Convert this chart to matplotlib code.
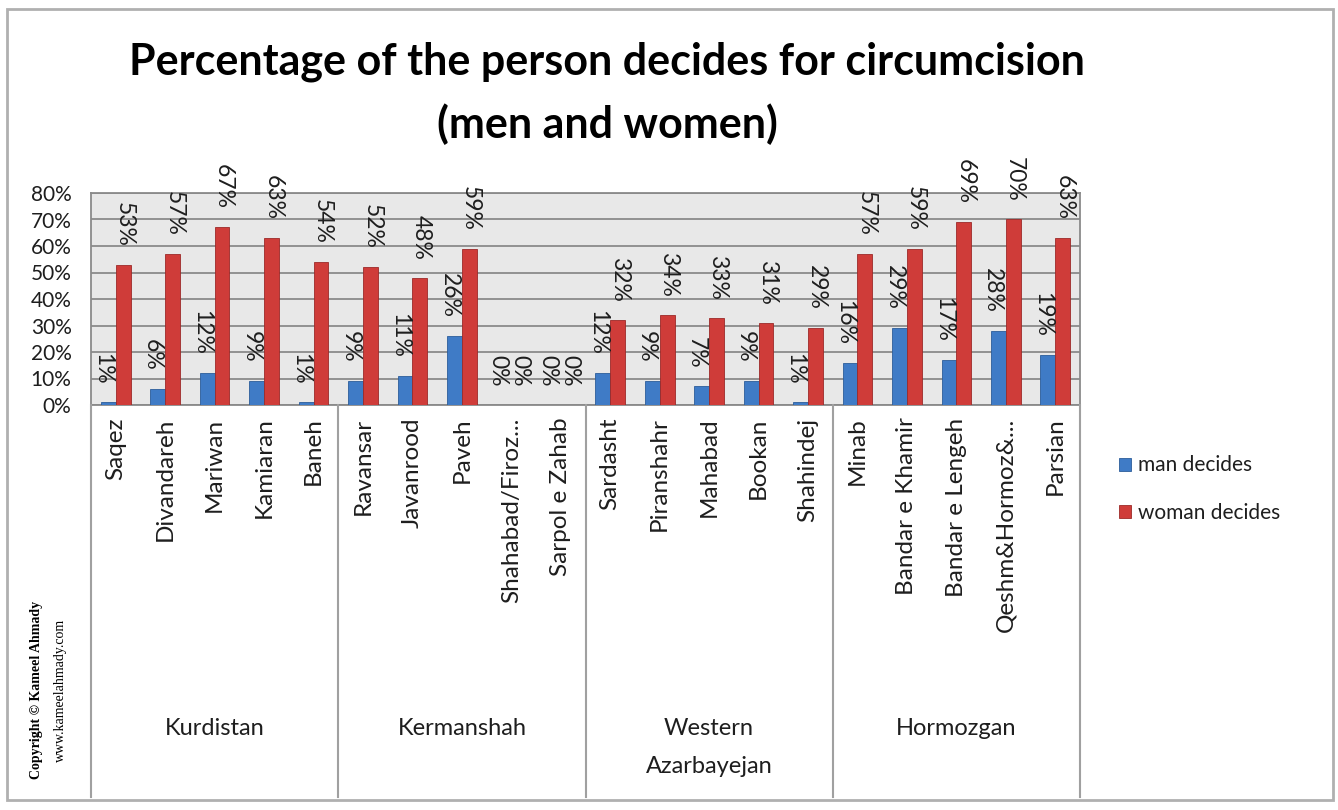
import numpy as np
import matplotlib
matplotlib.use('Agg')
import matplotlib.pyplot as plt
import matplotlib.transforms as mtransforms
from matplotlib.lines import Line2D
from matplotlib.patches import Rectangle

# Data
cities = ['Saqez', 'Divandareh', 'Mariwan', 'Kamiaran', 'Baneh',
          'Ravansar', 'Javanrood', 'Paveh', 'Shahabad/Firoz...', 'Sarpol e Zahab',
          'Sardasht', 'Piranshahr', 'Mahabad', 'Bookan', 'Shahindej',
          'Minab', 'Bandar e Khamir', 'Bandar e Lengeh', 'Qeshm&Hormoz&...', 'Parsian']
provinces = ['Kurdistan', 'Kermanshah', 'Western\nAzarbayejan', 'Hormozgan']
cities_per_province = [5, 5, 5, 5]
man_decides = [1, 6, 12, 9, 1, 9, 11, 26, 0, 0, 12, 9, 7, 9, 1, 16, 29, 17, 28, 19]
woman_decides = [53, 57, 67, 63, 54, 52, 48, 59, 0, 0, 32, 34, 33, 31, 29, 57, 59, 69, 70, 63]

plt.rcParams['font.family'] = ['Lato', 'DejaVu Sans']
txt = '#1e1e1e'

W, H = 1338, 810
fig = plt.figure(figsize=(W / 100, H / 100), dpi=100)

# outer chart border
fig.patches.append(Rectangle((7 / W, 1 - 800 / H), (1333 - 7) / W, (800 - 9) / H,
                             transform=fig.transFigure, fill=False,
                             edgecolor='#b0b0b0', linewidth=2))

ax = fig.add_axes([91 / W, 1 - 405 / H, (1080 - 91) / W, (405 - 193) / H])
ax.set_facecolor('#e8e8e8')

x = np.arange(len(cities))
bw = 0.3
blue = '#3f7bc6'
red = '#cf3c39'
b1 = ax.bar(x - bw / 2, man_decides, bw, color=blue, edgecolor='#2c5d9a',
            linewidth=0.6, label='man decides', zorder=3)
b2 = ax.bar(x + bw / 2, woman_decides, bw, color=red, edgecolor='#9c2a28',
            linewidth=0.6, label='woman decides', zorder=3)

# value labels, rotated, sitting above each bar
for bars, vals, dx in [(b1, man_decides, -4), (b2, woman_decides, 1)]:
    for rect, v in zip(bars, vals):
        ax.annotate('%d%%' % v, (rect.get_x() + rect.get_width() / 2, rect.get_height()),
                    xytext=(dx, 13), textcoords='offset points', rotation=270,
                    ha='center', va='bottom', fontsize=16.5, color=txt,
                    annotation_clip=False, zorder=4)

ax.set_xlim(-0.5, len(cities) - 0.5)
ax.set_ylim(0, 80)
ax.set_yticks(np.arange(0, 81, 10))
ax.set_yticklabels(['%d%%' % t for t in range(0, 81, 10)], fontsize=15, color=txt)
ax.yaxis.grid(True, color='#8a8a8a', linewidth=1.3, zorder=0)
ax.set_axisbelow(True)
ax.tick_params(axis='y', length=0, pad=14)
ax.set_xticks(x)
ax.set_xticklabels(cities, rotation=90, fontsize=17.5, color=txt)
ax.tick_params(axis='x', length=0, pad=9)
for s in ax.spines.values():
    s.set_color('#8a8a8a')
    s.set_linewidth(1.3)

# multi-level category table below the axis
blend = mtransforms.blended_transform_factory(ax.transData, fig.transFigure)
bounds = np.concatenate([[0], np.cumsum(cities_per_province)]) - 0.5
for b in bounds:
    fig.add_artist(Line2D([b, b], [1 - 405 / H, 1 - 797 / H], transform=blend,
                          color='#a0a0a0', linewidth=1.5))
for i, p in enumerate(provinces):
    cx = (bounds[i] + bounds[i + 1]) / 2
    fig.text(cx, 1 - 718 / H, p, transform=blend, ha='center', va='top',
             fontsize=17, color=txt, linespacing=2.0)

fig.suptitle('Percentage of the person decides for circumcision\n(men and women)',
             x=607 / W, y=1 - 42 / H, fontsize=31, fontweight='bold', linespacing=1.6)

leg = ax.legend(loc='center left', frameon=False, fontsize=15, handlelength=0.6,
                handleheight=0.6, labelspacing=1.3, handletextpad=0.3)
leg.set_bbox_to_anchor((1100 / W, 1 - 489 / H), transform=fig.transFigure)
for t in leg.get_texts():
    t.set_color(txt)

fig.text(37 / W, 1 - 690 / H, 'Copyright \u00a9 Kameel Ahmady', rotation=90,
         ha='center', va='center', fontsize=10, fontweight='bold',
         family='Liberation Serif')
fig.text(60 / W, 1 - 690 / H, 'www.kameelahmady.com', rotation=90,
         ha='center', va='center', fontsize=10, family='Liberation Serif')

fig.savefig('out.png', dpi=100)
